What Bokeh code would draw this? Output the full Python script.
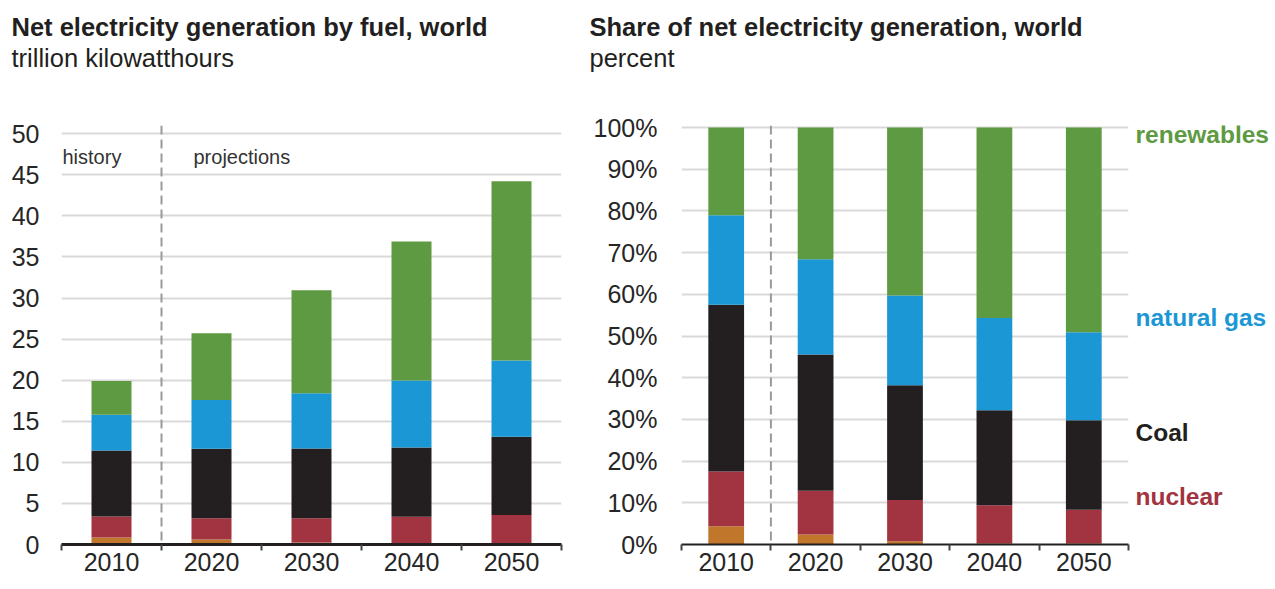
from bokeh.plotting import figure
from bokeh.models import (FactorRange, Range1d, LinearAxis, FixedTicker,
                          Span, Label, PrintfTickFormatter, ColumnDataSource)
from bokeh.core.properties import value
from bokeh.layouts import row, column
from bokeh.embed import file_html
from bokeh.resources import INLINE

FONT = "Liberation Sans"
TXT = "#231f20"

years = ["2010", "2020", "2030", "2040", "2050"]
fuels = ["liquids", "nuclear", "coal", "natural_gas", "renewables"]
fuel_colors = ["#c0762b", "#a23340", "#231f20", "#1c97d5", "#5e9a42"]

# Net electricity generation, trillion kilowatthours
gen_liquids = [0.85, 0.6, 0.25, 0.12, 0.1]
gen_nuclear = [2.55, 2.6, 2.95, 3.25, 3.5]
gen_coal = [8.05, 8.45, 8.5, 8.45, 9.5]
gen_gas = [4.35, 5.95, 6.7, 8.15, 9.3]
gen_renew = [4.1, 8.1, 12.55, 16.9, 21.8]

# Share of net electricity generation, percent
share_liquids = [4.4, 2.4, 0.8, 0.3, 0.3]
share_nuclear = [13.1, 10.5, 9.9, 9.1, 8.05]
share_coal = [40.0, 32.7, 27.5, 22.8, 21.45]
share_gas = [21.5, 22.8, 21.5, 22.1, 21.1]
share_renew = [21.0, 31.6, 40.3, 45.7, 49.1]

left_ticks = [0, 5, 10, 15, 20, 25, 30, 35, 40, 45, 50]
right_ticks = [0, 10, 20, 30, 40, 50, 60, 70, 80, 90, 100]

titles = ["Net electricity generation by fuel, world", "Share of net electricity generation, world"]
subtitles = ["trillion kilowatthours", "percent"]

series_labels = ["renewables", "natural gas", "Coal", "nuclear"]
series_label_colors = ["#5e9a42", "#1c97d5", "#231f20", "#a23340"]
series_label_y = [98.3, 54.4, 26.9, 11.5]

PANEL_H = 502
TOP = 47
BOTTOM = 36

# ---------- header with titles ----------
hdr = figure(width=1271, height=78, x_range=Range1d(0, 1271), y_range=Range1d(78, 0),
             output_backend="svg", toolbar_location=None, title=None,
             x_axis_location=None, y_axis_location=None,
             min_border_left=0, min_border_right=0, min_border_top=0, min_border_bottom=0)
hdr.outline_line_color = None
hdr.grid.visible = False
hsrc = ColumnDataSource(dict(x=[11, 589], ty=[26, 26], sy=[57, 57], t=titles, s=subtitles))
hdr.text(x="x", y="ty", text="t", source=hsrc, text_font=value(FONT), text_font_size="25.5px",
         text_font_style="bold", text_color=TXT, text_baseline="alphabetic")
hdr.text(x="x", y="sy", text="s", source=hsrc, text_font=value(FONT), text_font_size="25.5px",
         text_color=TXT, text_baseline="alphabetic")


def make_panel(width, mleft, mright, y_end, ticks, y_standoff, axis_w, fmt=None):
    p = figure(width=width, height=PANEL_H, x_range=FactorRange(*years),
               y_range=Range1d(0, y_end), output_backend="svg", toolbar_location=None,
               title=None, x_axis_location=None,
               min_border_left=mleft, min_border_right=mright, min_border_top=TOP,
               min_border_bottom=BOTTOM)
    p.outline_line_color = None
    p.xgrid.visible = False
    tk = FixedTicker(ticks=ticks, minor_ticks=[])
    p.yaxis.ticker = tk
    p.ygrid.ticker = tk
    p.ygrid.grid_line_color = "#d9d9d9"
    p.ygrid.grid_line_width = 2
    ya = p.yaxis[0]
    ya.axis_line_color = None
    ya.major_tick_line_color = None
    ya.minor_tick_line_color = None
    ya.major_tick_in = 0
    ya.major_tick_out = 0
    ya.major_label_standoff = y_standoff
    ya.major_label_text_font = FONT
    ya.major_label_text_font_size = "25px"
    ya.major_label_text_color = "#262626"
    if fmt is not None:
        ya.formatter = fmt

    centers = [i + 0.5 for i in range(len(years))]
    bounds = list(range(len(years) + 1))
    xa = LinearAxis(ticker=FixedTicker(ticks=centers, minor_ticks=bounds),
                    major_label_overrides=dict(zip(centers, years)),
                    axis_line_color=TXT, axis_line_width=axis_w,
                    major_tick_line_color=None, major_tick_in=0, major_tick_out=6,
                    minor_tick_line_color="#444444", minor_tick_line_width=2,
                    minor_tick_in=0, minor_tick_out=6,
                    major_label_standoff=2, major_label_text_font=FONT,
                    major_label_text_font_size="25px", major_label_text_color="#262626")
    p.add_layout(xa, "below")
    p.add_layout(Span(location=1, dimension="height", line_color="#9a9a9a",
                      line_dash="9 5", line_width=2))
    return p


# ---------- left panel ----------
p1 = make_panel(572, 61, 11, 51.0, left_ticks, 22, 3)
src1 = ColumnDataSource(dict(year=years, liquids=gen_liquids, nuclear=gen_nuclear,
                             coal=gen_coal, natural_gas=gen_gas, renewables=gen_renew))
p1.vbar_stack(fuels, x="year", width=0.4, fill_color=fuel_colors, line_color=None, source=src1)
p1.add_layout(Label(x=0, y=47.2, x_offset=1, text="history", text_font=FONT,
                    text_font_size="20px", text_color="#333333", text_baseline="middle"))
p1.add_layout(Label(x=1, y=47.2, x_offset=32, text="projections", text_font=FONT,
                    text_font_size="20px", text_color="#333333", text_baseline="middle"))

# ---------- right panel ----------
p2 = make_panel(558, 109, 2, 100.5, right_ticks, 24, 2,
                fmt=PrintfTickFormatter(format="%d%%"))
src2 = ColumnDataSource(dict(year=years, liquids=share_liquids, nuclear=share_nuclear,
                             coal=share_coal, natural_gas=share_gas, renewables=share_renew))
p2.vbar_stack(fuels, x="year", width=0.4, fill_color=fuel_colors, line_color=None, source=src2)

# ---------- series labels to the right of the share panel ----------
p3 = figure(width=141, height=PANEL_H, x_range=Range1d(0, 141), y_range=p2.y_range,
            output_backend="svg", toolbar_location=None, title=None,
            x_axis_location=None, y_axis_location=None,
            min_border_left=0, min_border_right=0, min_border_top=TOP, min_border_bottom=BOTTOM)
p3.outline_line_color = None
p3.grid.visible = False
lsrc = ColumnDataSource(dict(x=[5] * len(series_labels), y=series_label_y,
                             t=series_labels, c=series_label_colors))
p3.text(x="x", y="y", text="t", text_color="c", source=lsrc, text_font=value(FONT),
        text_font_size="24.5px", text_font_style="bold", text_baseline="middle")

layout = column(hdr, row(p1, p2, p3))
open("out.html", "w").write(file_html(layout, INLINE))
